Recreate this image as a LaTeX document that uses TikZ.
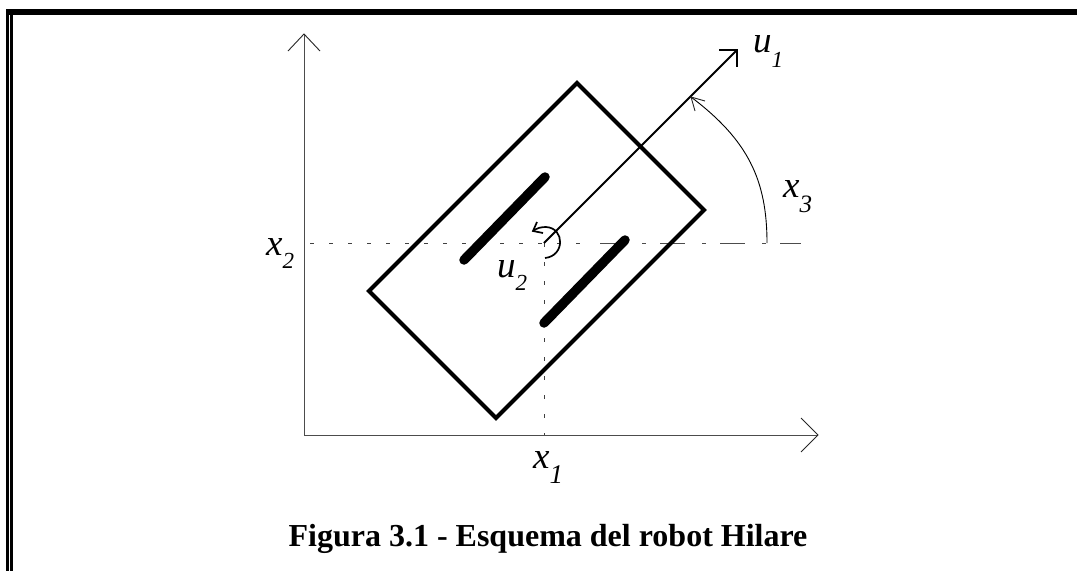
\documentclass[tikz,border=0pt]{standalone}
\usepackage{fontspec}
\setmainfont{Liberation Serif}
\usetikzlibrary{positioning,calc}
\newcommand{\varlab}[4][23]{\fontsize{37}{37}\selectfont\textit{#2}\raisebox{-#4}{\fontsize{#1}{#1}\selectfont\textit{#3}}}
\tikzset{
  axisline/.style={draw=black!70,line width=1pt},
  barbline/.style={line width=0.9pt,draw=black!85,line join=miter},
  dotline/.style={draw=black!75,line width=1pt,dash pattern=on 4pt off 15pt},
  longline/.style={draw=black!70,line width=1pt,dash pattern=on 25pt off 17pt on 4pt off 14pt},
  bodyline/.style={line width=4.2pt,line join=miter},
  wheelline/.style={line width=9.5pt,line cap=round},
  varnode/.style={inner sep=0pt,anchor=base west},
}
\begin{document}
\begin{tikzpicture}[x=1pt,y=-1pt]
  \useasboundingbox (0,0) rectangle (1077,571);
  % frame
  \fill (6,9) rectangle (1077,15);
  \fill (6,9) rectangle (9,571);
  \fill (10,15) rectangle (13,571);
  % axes
  \coordinate (orig) at (304,435);
  \coordinate (top) at (304,34);
  \coordinate (right) at (818,435);
  \draw[axisline] (orig)--(top);
  \draw[axisline] (orig)--(right);
  \draw[barbline] (288,51)--(top)--(320,51);
  \draw[barbline] (801,418)--(right)--(801,452);
  % guide lines
  \coordinate (centre) at (544,243);
  \coordinate (foot) at (544,435);
  \coordinate (gleft) at (310,243);
  \coordinate (gmid) at (590,243);
  \coordinate (gstart) at (600,243);
  \coordinate (gend) at (801,243);
  \draw[dotline] (gleft)--(gmid);
  \draw[longline] (gstart)--(gend);
  \draw[dotline] (centre)--(foot);
  % robot
  \draw[bodyline] (577,83)--(704,210)--(496,418)--(369,291)--cycle;
  \draw[wheelline] (545,177)--(464,260);
  \draw[wheelline] (625,240)--(544,323);
  % u1
  \coordinate (utip) at (737,50);
  \draw[line width=2pt] (centre)--(utip);
  \draw[line width=2pt,line join=miter] (719,50)--(utip)--(737,67);
  % angle
  \coordinate (astart) at (767,243);
  \coordinate (aend) at (691,97);
  \draw[line width=0.9pt] (astart) .. controls (767,180) and (748,140) .. (aend);
  \draw[barbline] (705,101)--(aend)--(695,111);
  % turning arrow
  \coordinate (tstart) at (545,258);
  \coordinate (tend) at (533,231);
  \draw[line width=1.7pt] (tstart) .. controls (565,256) and (565,228) .. (546,227) .. controls (541,227) and (537,228) .. (tend);
  \draw[line width=1.7pt,line join=miter] (537,222)--(tend)--(543,233);
  % labels
  \node[varnode] (lx2) at (266,255) {\varlab{x}{2}{13pt}};
  \node[varnode] (lu2) at (497,277) {\varlab{u}{2}{13pt}};
  \node[varnode] (lu1) at (753,52) {\varlab{u}{1}{15pt}};
  \node[varnode] (lx3) at (783,197) {\varlab[25]{x}{3}{15pt}};
  \node[varnode] (lx1) at (533,468) {\varlab[27]{x}{1}{15pt}};
  \node[inner sep=0pt,anchor=base,font=\bfseries\fontsize{32}{32}\selectfont] (cap) at (548,546) {Figura 3.1 - Esquema del robot Hilare};
\end{tikzpicture}
\end{document}
